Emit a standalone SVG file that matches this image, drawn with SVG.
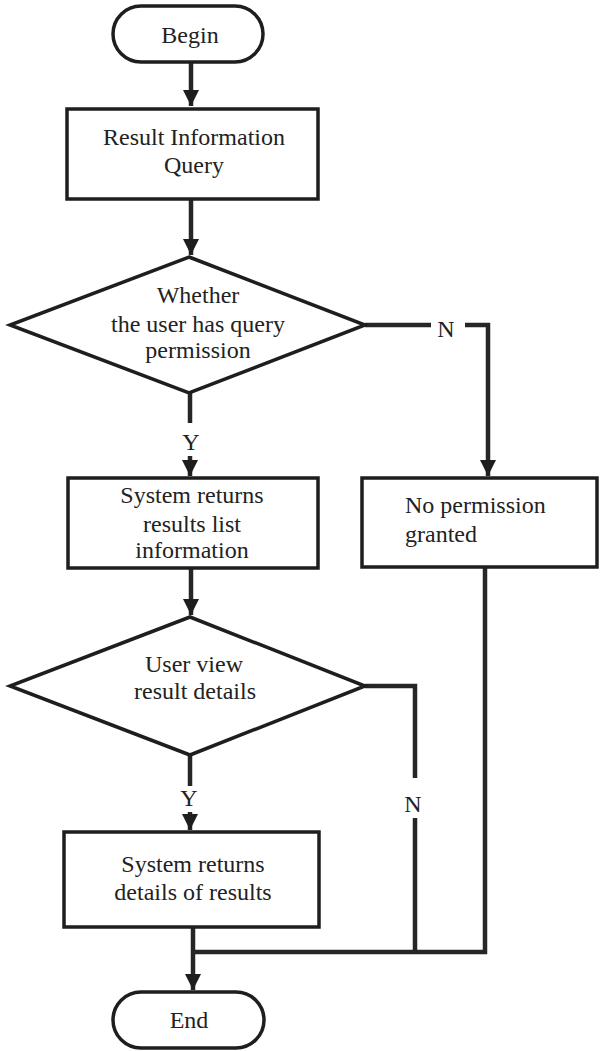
<svg xmlns="http://www.w3.org/2000/svg" width="607" height="1051" viewBox="0 0 607 1051">
  <style>
    .shape { fill: #ffffff; stroke: #1e1e1e; stroke-width: 3.5; }
    .line { fill: none; stroke: #262626; stroke-width: 4.5; stroke-linejoin: miter; }
    .label { font-family: "Liberation Serif", "Times New Roman", serif; font-size: 24px; fill: #222222; }
    .mid { text-anchor: middle; }
  </style>
  <defs>
    <!-- filled triangular head, drawn along +x so orient="auto" follows the line -->
    <marker id="arrow" markerUnits="userSpaceOnUse" markerWidth="18" markerHeight="18" viewBox="0 0 18 18" refX="17" refY="9" orient="auto">
      <path d="M1,1 L17,9 L1,17 Z" fill="#1e1e1e"/>
    </marker>
  </defs>
  <rect width="607" height="1051" fill="#ffffff"/>

  <!-- connectors -->
  <g id="connectors">
    <path class="line" d="M191,62 V106" marker-end="url(#arrow)"/>
    <path class="line" d="M191,200 V255" marker-end="url(#arrow)"/>
    <path class="line" d="M190,393 V423"/>
    <path class="line" d="M190,456 V476" marker-end="url(#arrow)"/>
    <path class="line" d="M365,325 H431"/>
    <path class="line" d="M465,325 H488 V476" marker-end="url(#arrow)"/>
    <path class="line" d="M191,568 V615" marker-end="url(#arrow)"/>
    <path class="line" d="M190,755 V786"/>
    <path class="line" d="M190,812 V830" marker-end="url(#arrow)"/>
    <path class="line" d="M365,686 H415 V778"/>
    <path class="line" d="M415,818 V952"/>
    <path class="line" d="M485,567 V952 H193"/>
    <path class="line" d="M193,927 V990" marker-end="url(#arrow)"/>
    <text class="label mid" x="446" y="337">N</text>
    <text class="label mid" x="191" y="450">Y</text>
    <text class="label mid" x="189" y="806">Y</text>
    <text class="label mid" x="413" y="812">N</text>
  </g>

  <g id="begin">
    <rect class="shape" x="113" y="6" width="150" height="56" rx="28"/>
    <text class="label mid" x="190" y="43">Begin</text>
  </g>

  <g id="query">
    <rect class="shape" x="67" y="109" width="251" height="90"/>
    <text class="label mid" x="194" y="145">Result Information</text>
    <text class="label mid" x="194" y="173">Query</text>
  </g>

  <g id="permission-check">
    <polygon class="shape" points="189,257 365,325 189,393 10,325"/>
    <text class="label mid" x="198" y="303">Whether</text>
    <text class="label mid" x="198" y="332">the user has query</text>
    <text class="label mid" x="198" y="358">permission</text>
  </g>

  <g id="results-list">
    <rect class="shape" x="68" y="478" width="250" height="90"/>
    <text class="label mid" x="192" y="503">System returns</text>
    <text class="label mid" x="192" y="532">results list</text>
    <text class="label mid" x="192" y="558">information</text>
  </g>

  <g id="no-permission">
    <rect class="shape" x="362" y="478" width="235" height="89"/>
    <text class="label" x="405" y="513">No permission</text>
    <text class="label" x="405" y="542">granted</text>
  </g>

  <g id="view-check">
    <polygon class="shape" points="190,617 365,686 190,755 10,686"/>
    <text class="label mid" x="194" y="672">User view</text>
    <text class="label mid" x="195" y="699">result details</text>
  </g>

  <g id="details">
    <rect class="shape" x="64" y="832" width="255" height="95"/>
    <text class="label mid" x="193" y="872">System returns</text>
    <text class="label mid" x="193" y="900">details of results</text>
  </g>

  <g id="end">
    <rect class="shape" x="113" y="992" width="151" height="56" rx="28"/>
    <text class="label mid" x="189" y="1028">End</text>
  </g>
</svg>
